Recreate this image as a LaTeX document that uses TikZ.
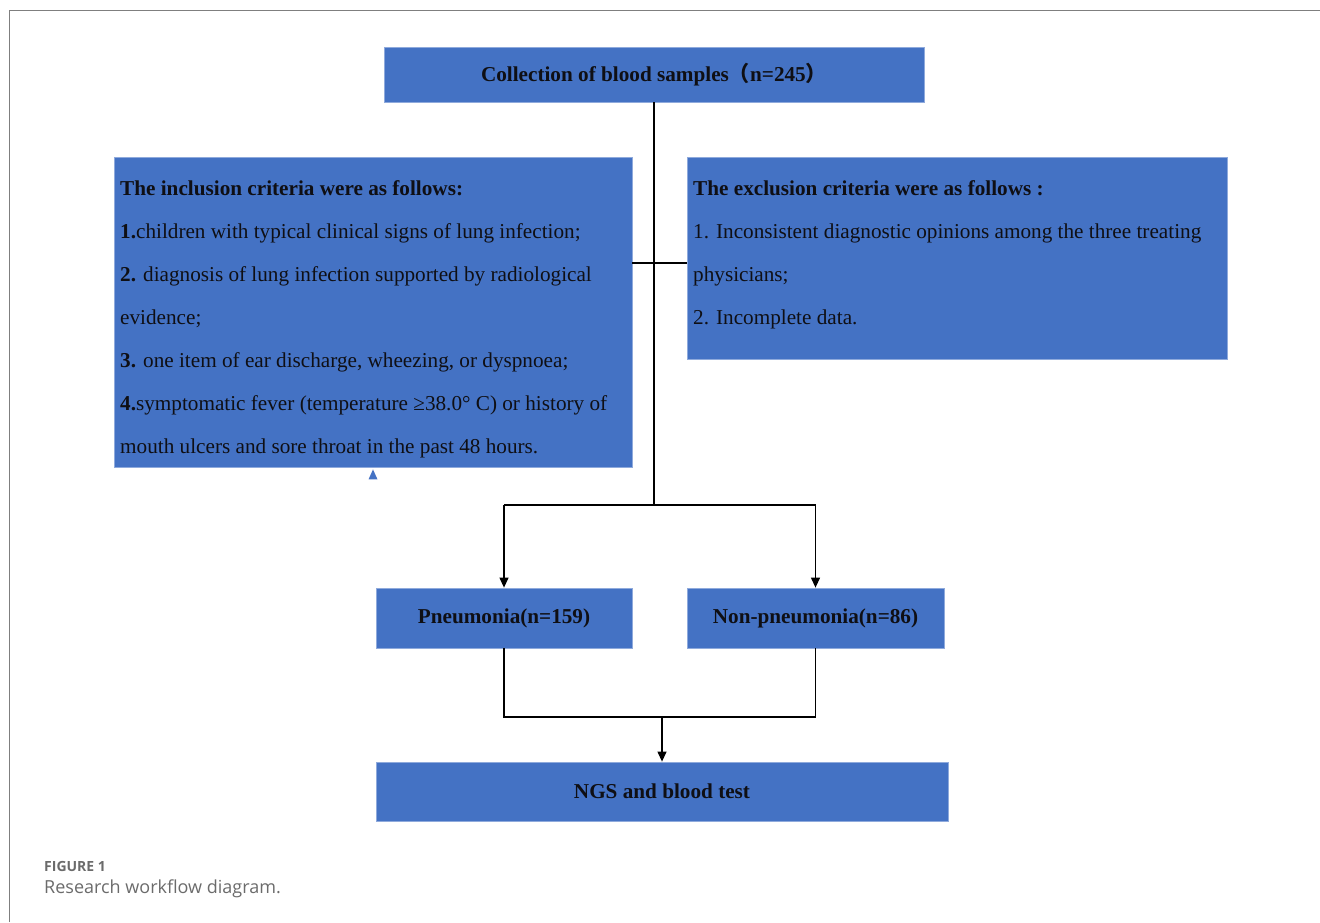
\documentclass[tikz,border=0pt]{standalone}
\usepackage{fontspec}
\setmainfont{Liberation Serif}
\newfontfamily\capfont{Open Sans}
\newfontfamily\cjk{Noto Sans CJK SC}
\usetikzlibrary{arrows.meta,positioning}
\definecolor{boxblue}{HTML}{4472C4}
\definecolor{boxedge}{HTML}{8FAADC}
\definecolor{framegray}{HTML}{7F7F7F}
\definecolor{capgray}{HTML}{6B6B6B}
\definecolor{ink}{HTML}{0F0F14}

\begin{document}
\begin{tikzpicture}[x=1pt,y=-1pt,
  blk/.style={draw=boxedge,line width=0.8pt,fill=boxblue,inner sep=0pt},
  flow/.style={draw=black,line width=1.2pt},
  arrowed/.style={-{Triangle[length=10pt,width=9pt]}},
  every node/.append style={text=ink,font=\fontsize{21.2}{43}\selectfont}]
\useasboundingbox (0,0) rectangle (1320,922);
\draw [framegray,line width=1.4pt] (9.5,922) -- (9.5,10.5) -- (1320,10.5);
\node [blk,minimum width=540pt,minimum height=55pt] (collect) at (654,74.5) {\textbf{Collection of blood samples{\cjk （}n=245{\cjk ）}}};
\node [blk,minimum width=518pt,minimum height=310pt] (incl) at (373,312) {};
\node [blk,minimum width=540pt,minimum height=202pt] (excl) at (957,258) {};
\node [anchor=north west,align=left,inner sep=0pt] (incltext) at (120,180.5) {\textbf{The inclusion criteria were as follows:}\\
\textbf{1.}children with typical clinical signs of lung infection;\\
\textbf{2.} diagnosis of lung infection supported by radiological\\
evidence;\\
\textbf{3.} one item of ear discharge, wheezing, or dyspnoea;\\
\textbf{4.}symptomatic fever (temperature ≥38.0° C) or history of\\
mouth ulcers and sore throat in the past 48 hours.};
\node [anchor=north west,align=left,inner sep=0pt] (excltext) at (693,180.5) {\textbf{The exclusion criteria were as follows :}\\
1. Inconsistent diagnostic opinions among the three treating\\
physicians;\\
2. Incomplete data.};
\node [blk,minimum width=256pt,minimum height=60pt] (pneu) at (504,618) {\textbf{Pneumonia(n=159)}};
\node [blk,minimum width=257pt,minimum height=60pt] (nonpneu) at (815.5,618) {\textbf{Non-pneumonia(n=86)}};
\node [blk,minimum width=572pt,minimum height=59pt] (ngs) at (662,791.5) {\textbf{NGS and blood test}};
\coordinate (crit) at (654,263);
\coordinate (fork) at (654,505);
\coordinate (join) at (662,717);
\draw [flow] (collect.south) -- (fork);
\draw [flow] (incl.east |- crit) -- (excl.west |- crit);
\draw [flow] (pneu.north |- fork) -- (nonpneu.north |- fork);
\draw [flow,arrowed] (pneu.north |- fork) -- (pneu.north);
\draw [flow,arrowed] (nonpneu.north |- fork) -- (nonpneu.north);
\draw [flow] (pneu.south) -- (pneu.south |- join) -- (nonpneu.south |- join) -- (nonpneu.south);
\draw [flow,arrowed] (join) -- (ngs.north);
\fill [boxblue] ([xshift=-4.5pt,yshift=-12pt]incl.south) -- ([yshift=-2pt]incl.south) -- ([xshift=4.5pt,yshift=-12pt]incl.south) -- cycle;
\node [anchor=base west,inner sep=0pt,text=capgray,font=\capfont\bfseries\fontsize{14}{17}\selectfont] (figlabel) at (44,871) {FIGURE 1};
\node [anchor=base west,inner sep=0pt,text=capgray,font=\capfont\fontsize{18}{22}\selectfont] (figcaption) at (44,893) {Research workflow diagram.};
\end{tikzpicture}
\end{document}
